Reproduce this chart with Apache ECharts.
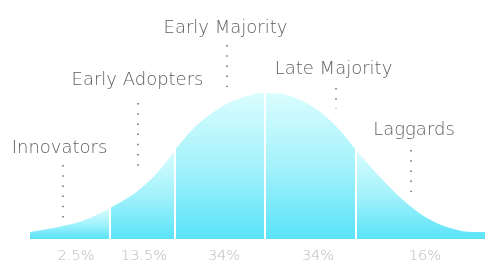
<!DOCTYPE html>
<html><head><meta charset="utf-8">
<script src="https://cdn.jsdelivr.net/npm/echarts@6/dist/echarts.min.js"></script>
<style>html,body{margin:0;padding:0;background:#fff}#c{width:501px;height:268px}</style>
</head><body><div id="c"></div>
<script>
// ---- data ----
const stages = ['Innovators', 'Early Adopters', 'Early Majority', 'Late Majority', 'Laggards'];
const shares = ['2.5%', '13.5%', '34%', '34%', '16%'];
const boundaries = [30, 110, 175, 265, 356, 485];
const curveX = [30, 58, 85, 110, 135, 158, 175, 192, 212, 235, 258, 265, 287, 310, 333, 356, 380, 403, 427, 450, 473, 485];
const curveH = [7, 12, 19, 31, 46, 67, 89, 109, 126, 139, 145.5, 146, 144, 134, 116, 89, 62, 39, 21, 11, 7, 7];

// ---- layout (pixels) ----
const stageLabelPos = [[59.5, 148], [137.5, 80.5], [225.5, 28.5], [333.5, 69.5], [414, 130.5]];
const dotLines = [[63, 165, 217], [138, 103, 173], [227, 45, 86], [336, 88, 108], [411, 150, 191]];
const sharePos = [[76, 256.5], [144, 256.5], [224, 256.5], [318, 256.5], [425, 256.5]];

const chart = echarts.init(document.getElementById('c'), null, {renderer: 'canvas'});

const grad = () => new echarts.graphic.LinearGradient(0, 0, 0, 1, [
  {offset: 0, color: '#dafdfe'},
  {offset: 0.5, color: '#a4f2fb'},
  {offset: 1, color: '#5ae3f8'}
]);

const series = [];
for (let i = 0; i < boundaries.length - 1; i++) {
  const a = boundaries[i], b = boundaries[i + 1];
  const pts = [];
  curveX.forEach((x, k) => { if (x >= a && x <= b) pts.push([x, curveH[k]]); });
  const ml = [];
  if (i > 0) {
    const h = curveH[curveX.indexOf(a)];
    ml.push([{coord: [a, 0]}, {coord: [a, h + 1]}]);
  }
  series.push({
    type: 'line',
    data: pts,
    smooth: 0.35,
    symbol: 'none',
    silent: true,
    lineStyle: {width: 0},
    areaStyle: {color: grad(), opacity: 1},
    z: 2,
    markLine: ml.length ? {
      silent: true, symbol: 'none', label: {show: false},
      lineStyle: {color: '#ffffff', width: 2, type: 'solid'},
      data: ml, z: 3
    } : undefined
  });
}

const graphics = [];
const font = '"DejaVu Sans ExtraLight", "DejaVu Sans", sans-serif';
stages.forEach((s, i) => {
  graphics.push({
    type: 'text', x: stageLabelPos[i][0], y: stageLabelPos[i][1], z: 10,
    style: {text: s, fill: '#5e5e5e', font: '200 18px ' + font, align: 'center', verticalAlign: 'middle'}
  });
  const d = dotLines[i];
  graphics.push({
    type: 'line', z: 10,
    shape: {x1: d[0], y1: d[1], x2: d[0], y2: d[2] + 1},
    style: {stroke: '#6a6a6a', lineWidth: 1.5, lineDash: [1.5, 8.7]}
  });
});
shares.forEach((s, i) => {
  graphics.push({
    type: 'text', x: sharePos[i][0], y: sharePos[i][1], z: 10,
    style: {text: s, fill: '#b8b8b8', font: '200 14.5px ' + font, align: 'center', verticalAlign: 'middle'}
  });
});

chart.setOption({
  backgroundColor: '#ffffff',
  animation: false,
  grid: {left: 0, right: 0, top: 0, bottom: 29},
  xAxis: {type: 'value', min: 0, max: 501, show: false},
  yAxis: {type: 'value', min: 0, max: 239, show: false},
  series: series,
  graphic: graphics
});
</script></body></html>
